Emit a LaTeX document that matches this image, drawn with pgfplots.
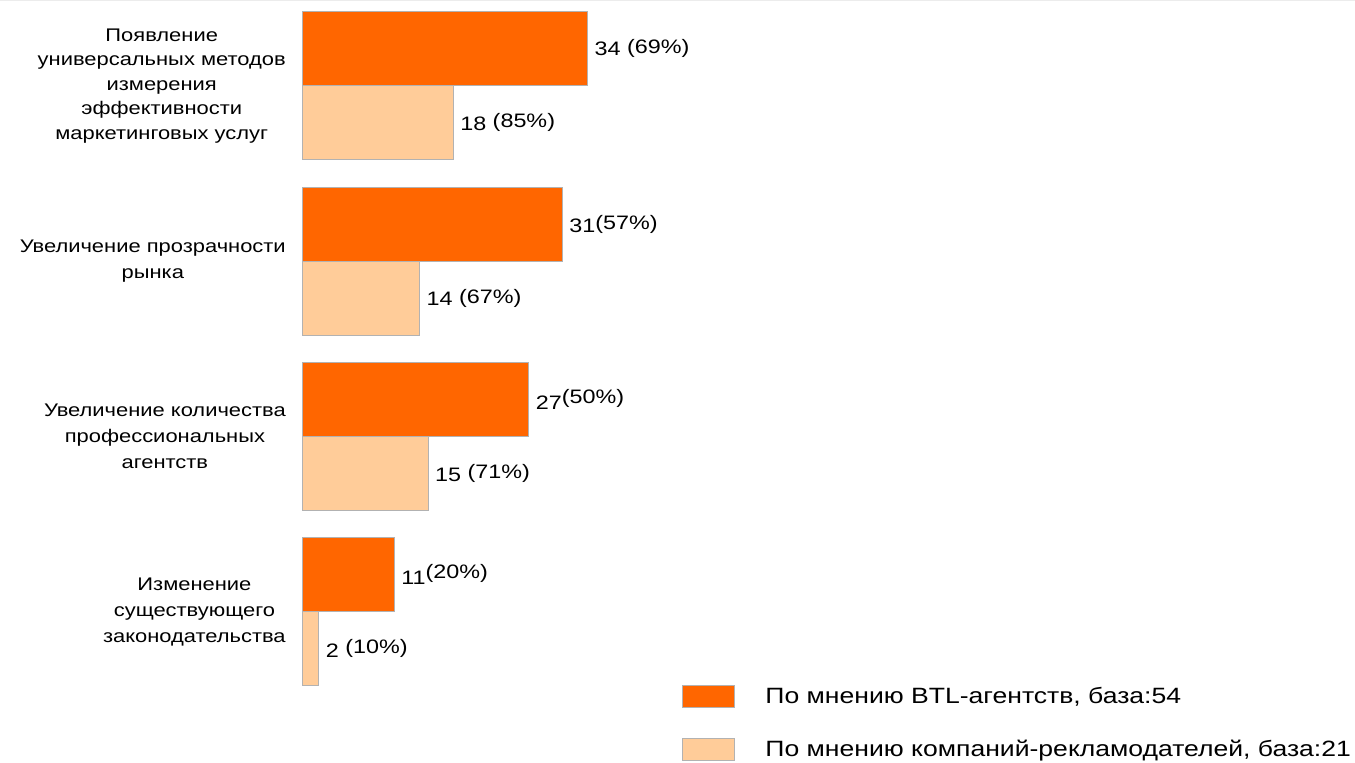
\documentclass[border=0pt]{standalone}
\usepackage{pgfplots}
\pgfplotsset{compat=1.18}
\usepackage{fontspec}
\setmainfont{Liberation Sans}[FakeStretch=1.2]
\definecolor{darkor}{HTML}{FF6600}
\definecolor{lightor}{HTML}{FFCC99}
\begin{document}
\begin{tikzpicture}
\path[use as bounding box] (0,0) rectangle (1016.25pt,-572.25pt);
\draw[gray!15, line width=0.75pt] (0,-0.75pt) -- (1016.25pt,-0.75pt);
\begin{axis}[
  at={(226.5pt,-5.25pt)}, anchor=north west,
  scale only axis, width=630pt, height=512.8pt,
  xmin=0, xmax=100, ymin=-0.45, ymax=3.45,
  xbar, bar width=55.5pt,
  axis line style={draw=none},
  xtick=\empty, ytick={0,1,2,3},
  yticklabels={{Изменение\\существующего\\законодательства},
               {Увеличение количества\\профессиональных\\агентств},
               {Увеличение прозрачности\\рынка},
               {Появление\\[-1.2pt]универсальных методов\\[-1.2pt]измерения\\[-1.2pt]эффективности\\[-1.2pt]маркетинговых услуг}},
  major tick length=0pt,
  ytick style={draw=none},
  yticklabel style={align=center, font=\fontsize{13.7}{19.6}\selectfont, inner sep=0pt, anchor=east, xshift=-12pt},
  nodes near coords, point meta=explicit symbolic,
  nodes near coords style={font=\fontsize{14.6}{18}\selectfont, anchor=west, inner sep=0pt, xshift=5pt},
  clip=false,
  legend image code/.code={\fill[#1] (0pt,-8.25pt) rectangle (39pt,8.25pt); \path (60pt,0pt);},
  legend style={at={(axis description cs:0.452,0.01)}, anchor=north west, draw=none, fill=none,
    font=\fontsize{16.6}{20}\selectfont, row sep=22pt, inner sep=0pt},
  legend cell align=left,
]
\addplot[fill=darkor, draw=gray!60, line width=0.6pt, bar shift=27.75pt] coordinates {
  (34,3) [34 \raisebox{1.5pt}{(69\%)}]
  (31,2) [31\raisebox{2.5pt}{(57\%)}]
  (27,1) [27\raisebox{4.5pt}{(50\%)}]
  (11,0) [11\raisebox{4.5pt}{(20\%)}]
};
\addlegendentry{По мнению BTL-агентств, база:54}
\addplot[fill=lightor, draw=gray!60, line width=0.6pt, bar shift=-27.75pt] coordinates {
  (18,3) [18 \raisebox{2pt}{(85\%)}]
  (14,2) [14 \raisebox{2pt}{(67\%)}]
  (15,1) [15 \raisebox{2pt}{(71\%)}]
  (2,0) [2 \raisebox{2.5pt}{(10\%)}]
};
\addlegendentry{По мнению компаний-рекламодателей, база:21}
\end{axis}
\end{tikzpicture}
\end{document}
